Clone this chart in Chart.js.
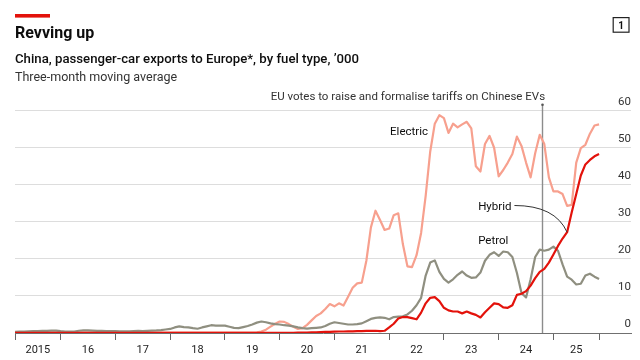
<!DOCTYPE html>
<html>
<head>
<meta charset="utf-8">
<script src="https://cdn.jsdelivr.net/npm/chart.js@4.4.1/dist/chart.umd.min.js"></script>
<style>
html,body{margin:0;padding:0;background:#fff;width:640px;height:360px;overflow:hidden;}
#c{position:absolute;left:0;top:0;}
</style>
</head>
<body>
<canvas id="c" width="640" height="360"></canvas>
<script>
// Monthly three-month moving averages, '000 cars, March 2015 .. November 2025
const startYear = 2015, startMonth = 3;
const electric = [
  0.1,0.1,0.1,0.1,0.1,0.1,0.1,0.1,0.1,0.1,
  0.1,0.1,0.1,0.1,0.1,0.1,0.1,0.1,0.1,0.1,0.1,0.1,
  0.1,0.1,0.1,0.1,0.1,0.1,0.1,0.1,0.1,0.1,0.1,0.1,
  0.1,0.1,0.1,0.1,0.1,0.1,0.1,0.1,0.1,0.1,0.1,0.1,
  0.1,0.1,0.1,0.1,0.1,0.1,0.1,0.2,0.4,0.9,1.7,2.5,
  3.1,3.0,2.4,1.7,1.1,1.3,2.2,3.4,4.6,5.3,6.5,7.8,
  7.2,8.0,7.4,9.8,12.2,13.4,13.6,19.5,28.5,33.0,30.5,27.8,
  28.2,31.8,32.3,24.0,18.0,17.8,21.0,27.0,37.0,49.0,56.5,58.8,
  58.0,54.0,56.5,55.5,56.3,57.0,55.2,45.0,43.6,51.0,53.2,50.0,
  42.3,44.0,46.0,48.3,53.0,50.5,46.0,42.0,48.5,53.5,51.0,42.0,
  38.2,38.2,37.5,34.3,34.6,46.0,49.9,50.8,53.8,56.0,56.3
];
const petrol = [
  0.3,0.35,0.4,0.45,0.5,0.5,0.55,0.6,0.65,0.65,
  0.5,0.4,0.35,0.4,0.6,0.7,0.7,0.65,0.6,0.55,0.5,0.5,
  0.5,0.45,0.45,0.45,0.5,0.55,0.5,0.6,0.65,0.7,0.8,0.95,
  1.1,1.5,1.8,1.6,1.5,1.3,1.15,1.5,1.8,2.1,2.0,2.0,
  2.0,1.7,1.4,1.3,1.6,1.9,2.3,2.8,3.1,2.9,2.6,2.4,
  2.3,2.1,2.0,1.8,1.5,1.3,1.2,1.3,1.4,1.5,1.9,2.5,
  2.9,2.7,2.5,2.3,2.3,2.4,2.6,3.2,3.8,4.1,4.2,4.1,
  3.7,4.3,4.4,4.5,5.0,6.0,7.5,9.5,15.5,19.0,19.6,16.5,
  14.6,13.6,14.5,15.7,16.6,15.5,14.9,15.0,16.3,19.5,21.1,21.8,
  20.8,22.0,21.8,20.5,16.2,10.8,9.6,14.5,20.5,22.5,22.2,22.5,
  23.3,22.2,18.5,15.2,14.4,13.1,13.3,15.5,16.0,15.2,14.6
];
const hybrid = [
  0.05,0.05,0.05,0.05,0.05,0.05,0.05,0.05,0.05,0.05,
  0.05,0.05,0.05,0.05,0.05,0.05,0.05,0.05,0.05,0.05,0.05,0.05,
  0.05,0.05,0.05,0.05,0.05,0.05,0.05,0.05,0.05,0.05,0.05,0.05,
  0.05,0.05,0.05,0.05,0.05,0.05,0.05,0.05,0.05,0.05,0.05,0.05,
  0.05,0.05,0.05,0.05,0.05,0.05,0.05,0.05,0.05,0.05,0.05,0.05,
  0.05,0.05,0.05,0.05,0.1,0.1,0.1,0.15,0.2,0.25,0.3,0.3,
  0.35,0.4,0.4,0.45,0.45,0.5,0.5,0.55,0.6,0.6,0.5,0.6,
  1.5,2.5,3.9,4.3,4.3,4.0,3.7,5.5,8.0,9.5,9.7,8.6,
  6.8,6.1,5.8,5.8,5.3,5.8,5.3,4.9,4.2,5.6,6.8,8.0,
  7.8,6.9,6.8,7.5,10.3,10.6,11.3,12.8,14.8,16.5,17.3,19.0,
  21.2,23.5,25.5,27.2,32.5,37.5,42.5,45.5,46.7,47.7,48.3
];
const yearLabels = ['2015','16','17','18','19','20','21','22','23','24','25'];
const yTicks = [0,10,20,30,40,50,60];
const eventMonth = 105.4; // months after Jan 2016 (October 2024)
const eventText = 'EU votes to raise and formalise tariffs on Chinese EVs';

// month offsets relative to January 2016
const firstOffset = (startYear - 2016) * 12 + (startMonth - 1);
const lastOffset = firstOffset + electric.length - 1;
const toPts = arr => arr.map((v, i) => ({x: firstOffset + i, y: v}));

const boundaries = [firstOffset];
for (let y = 2016; y <= 2025; y++) boundaries.push((y - 2016) * 12);
boundaries.push(lastOffset);
const labelMap = {};
for (let k = 0; k < yearLabels.length; k++) {
  const a = boundaries[k], b = boundaries[k + 1];
  labelMap[String((a + b) / 2)] = yearLabels[k];
}
const xTickVals = boundaries.concat(Object.keys(labelMap).map(Number)).sort((a, b) => a - b);
const boundarySet = new Set(boundaries);

const FONT = 'Roboto, "Liberation Sans", sans-serif';

const annot = {
  id: 'annot',
  beforeDatasetsDraw(chart) {
    const {ctx, scales: {x, y}} = chart;
    const px = Math.round(x.getPixelForValue(eventMonth)) + 0.5;
    const top = y.getPixelForValue(60) - 6;
    ctx.save();
    ctx.strokeStyle = '#8c8c8c';
    ctx.lineWidth = 1.4;
    ctx.beginPath();
    ctx.moveTo(px, top);
    ctx.lineTo(px, y.getPixelForValue(0));
    ctx.stroke();
    ctx.fillStyle = '#555';
    ctx.beginPath();
    ctx.arc(px, top, 1.3, 0, Math.PI * 2);
    ctx.fill();
    ctx.restore();
  },
  afterDraw(chart) {
    const {ctx, scales: {x, y}} = chart;
    ctx.save();
    // red bar
    ctx.fillStyle = '#e3120b';
    ctx.fillRect(15, 14, 35, 3.6);
    // title
    ctx.fillStyle = '#0d0d0d';
    ctx.textBaseline = 'alphabetic';
    ctx.textAlign = 'left';
    ctx.font = 'bold 16px ' + FONT;
    ctx.fillText('Revving up', 15, 37.7);
    ctx.font = '500 13.2px ' + FONT;
    ctx.fillText('China, passenger-car exports to Europe*, by fuel type, \u2019000', 15, 63.3);
    ctx.fillStyle = '#333';
    ctx.font = '12.5px ' + FONT;
    ctx.fillText('Three-month moving average', 15, 81);
    // box "1"
    ctx.strokeStyle = '#222';
    ctx.lineWidth = 1.2;
    ctx.strokeRect(613.2, 17.6, 15.8, 14.6);
    ctx.fillStyle = '#111';
    ctx.font = 'bold 10px ' + FONT;
    ctx.textAlign = 'center';
    ctx.fillText('1', 621.1, 28.6);
    // event label
    ctx.fillStyle = '#333';
    ctx.font = '11.5px ' + FONT;
    ctx.textAlign = 'right';
    ctx.fillText(eventText, x.getPixelForValue(eventMonth) + 3.5, 100);
    // series labels
    ctx.textAlign = 'left';
    ctx.fillStyle = '#0d0d0d';
    ctx.font = '11.5px ' + FONT;
    ctx.fillText('Electric', x.getPixelForValue(72.2), y.getPixelForValue(53.4));
    ctx.fillText('Hybrid', x.getPixelForValue(91.5), y.getPixelForValue(33.2));
    ctx.fillText('Petrol', x.getPixelForValue(91.5), y.getPixelForValue(24.0));
    // connector Hybrid label -> hybrid line
    const idx = 111 - firstOffset;
    const x0 = x.getPixelForValue(91.5) + ctx.measureText('Hybrid').width + 3;
    const y0 = y.getPixelForValue(33.2) - 4.5;
    const x1 = x.getPixelForValue(111), y1 = y.getPixelForValue(hybrid[idx]);
    ctx.strokeStyle = '#333';
    ctx.lineWidth = 1;
    ctx.beginPath();
    ctx.moveTo(x0, y0);
    ctx.quadraticCurveTo(x1 - 12, y0, x1, y1);
    ctx.stroke();
    ctx.restore();
  }
};

new Chart(document.getElementById('c'), {
  type: 'line',
  data: {
    datasets: [
      {label: 'Hybrid', data: toPts(hybrid), borderColor: '#e3120b', borderWidth: 2.2},
      {label: 'Petrol', data: toPts(petrol), borderColor: '#8f8f80', borderWidth: 2.2},
      {label: 'Electric', data: toPts(electric), borderColor: '#f7a08e', borderWidth: 2.2}
    ]
  },
  options: {
    responsive: false,
    animation: false,
    devicePixelRatio: 1,
    elements: {point: {radius: 0}, line: {tension: 0, borderJoinStyle: 'round', borderCapStyle: 'butt'}},
    layout: {padding: {top: 110.7, left: 15, right: 9, bottom: 0}},
    plugins: {legend: {display: false}, tooltip: {enabled: false}},
    scales: {
      x: {
        type: 'linear', min: firstOffset, max: 125,
        afterBuildTicks: s => { s.ticks = xTickVals.map(v => ({value: v})); },
        ticks: {autoSkip: false, maxRotation: 0, minRotation: 0, padding: 3.4,
          font: {family: FONT, size: 11}, color: '#222',
          callback: v => labelMap[String(v)] || ''},
        grid: {drawOnChartArea: false, drawTicks: true, tickLength: 7, tickWidth: 1,
          color: c => (c.tick && boundarySet.has(c.tick.value)) ? '#666' : 'rgba(0,0,0,0)',
          tickColor: c => (c.tick && boundarySet.has(c.tick.value)) ? '#666' : 'rgba(0,0,0,0)'},
        border: {display: true, color: '#707070', width: 1}
      },
      y: {
        position: 'right', min: 0, max: 60,
        afterBuildTicks: s => { s.ticks = yTicks.map(v => ({value: v})); },
        ticks: {mirror: true, padding: 0, labelOffset: -9, crossAlign: 'near',
          font: {family: FONT, size: 11.5}, color: '#333'},
        grid: {drawTicks: false, lineWidth: 1,
          color: c => (c.tick && c.tick.value === 0) ? 'rgba(0,0,0,0)' : '#dddddd'},
        border: {display: false}
      }
    }
  },
  plugins: [annot]
});
</script>
</body>
</html>
